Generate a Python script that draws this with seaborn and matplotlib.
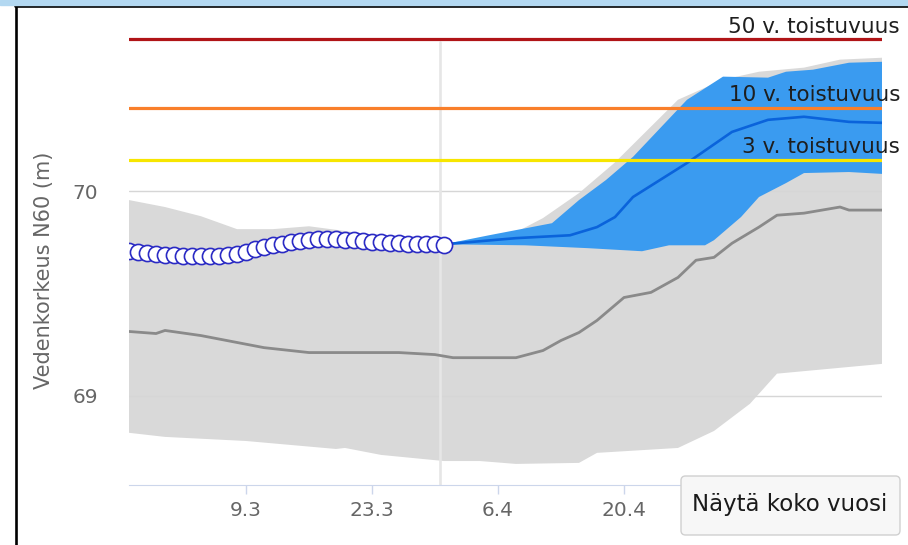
import pandas as pd
import numpy as np
import seaborn as sns
import matplotlib.pyplot as plt
import matplotlib.dates as mdates
from matplotlib.patches import Rectangle, FancyBboxPatch
from matplotlib.lines import Line2D

# observed water level, daily
obs_start, obs_end = '2019-02-24', '2019-03-31'
obs_level = [69.706, 69.701, 69.696, 69.691, 69.689, 69.686, 69.684, 69.681, 69.681,
             69.681, 69.681, 69.686, 69.691, 69.701, 69.716, 69.725, 69.735, 69.743,
             69.750, 69.755, 69.760, 69.765, 69.765, 69.765, 69.762, 69.760, 69.755,
             69.752, 69.750, 69.748, 69.745, 69.743, 69.740, 69.740, 69.740, 69.738]

# long-term range (gray)
hist_hi_dates = ['2019-02-24', '2019-02-28', '2019-03-04', '2019-03-08', '2019-03-12',
                 '2019-03-16', '2019-03-21', '2019-03-26', '2019-03-30', '2019-04-04',
                 '2019-04-08', '2019-04-11', '2019-04-15', '2019-04-19', '2019-04-26',
                 '2019-05-01', '2019-05-05', '2019-05-10', '2019-05-14', '2019-05-19']
hist_hi = [69.956, 69.922, 69.877, 69.814, 69.814, 69.828, 69.799, 69.770, 69.750, 69.745,
           69.799, 69.868, 69.990, 70.140, 70.446, 70.544, 70.583, 70.603, 70.642, 70.652]
hist_lo_dates = ['2019-02-24', '2019-02-28', '2019-03-09', '2019-03-19', '2019-03-20',
                 '2019-03-24', '2019-03-31', '2019-04-04', '2019-04-08', '2019-04-15',
                 '2019-04-17', '2019-04-26', '2019-04-30', '2019-05-04', '2019-05-07',
                 '2019-05-19']
hist_lo = [68.819, 68.799, 68.779, 68.740, 68.745, 68.711, 68.681, 68.681, 68.667, 68.672,
           68.721, 68.745, 68.828, 68.961, 69.108, 69.157]
hist_med_dates = ['2019-02-24', '2019-02-27', '2019-02-28', '2019-03-04', '2019-03-11',
                  '2019-03-16', '2019-03-26', '2019-03-30', '2019-04-01', '2019-04-08',
                  '2019-04-11', '2019-04-13', '2019-04-15', '2019-04-17', '2019-04-20',
                  '2019-04-23', '2019-04-26', '2019-04-28', '2019-04-30', '2019-05-02',
                  '2019-05-05', '2019-05-07', '2019-05-10', '2019-05-14', '2019-05-15',
                  '2019-05-19']
hist_med = [69.314, 69.304, 69.319, 69.294, 69.235, 69.211, 69.211, 69.201, 69.186, 69.186,
            69.221, 69.270, 69.309, 69.368, 69.480, 69.505, 69.578, 69.662, 69.676, 69.745,
            69.824, 69.882, 69.892, 69.922, 69.907, 69.907]

# forecast (blue)
fc_hi_dates = ['2019-03-31', '2019-04-05', '2019-04-12', '2019-04-15', '2019-04-18',
               '2019-04-21', '2019-04-27', '2019-05-01', '2019-05-06', '2019-05-08',
               '2019-05-11', '2019-05-15', '2019-05-19']
fc_hi = [69.740, 69.784, 69.843, 69.956, 70.054, 70.167, 70.446, 70.559, 70.554, 70.583,
         70.593, 70.627, 70.632]
fc_lo_dates = ['2019-03-31', '2019-04-09', '2019-04-16', '2019-04-22', '2019-04-25',
               '2019-04-29', '2019-04-30', '2019-05-03', '2019-05-05', '2019-05-08',
               '2019-05-10', '2019-05-15', '2019-05-19']
fc_lo = [69.740, 69.735, 69.721, 69.706, 69.735, 69.735, 69.760, 69.873, 69.971, 70.039,
         70.088, 70.093, 70.083]
fc_med_dates = ['2019-03-31', '2019-04-08', '2019-04-14', '2019-04-17', '2019-04-19',
                '2019-04-21', '2019-04-24', '2019-04-27', '2019-05-02', '2019-05-06',
                '2019-05-10', '2019-05-15', '2019-05-19']
fc_med = [69.740, 69.770, 69.784, 69.824, 69.873, 69.971, 70.054, 70.137, 70.289, 70.348,
          70.363, 70.338, 70.333]

# recurrence levels
levels = [70.741, 70.407, 70.151]
level_labels = ['50 v. toistuvuus', '10 v. toistuvuus', '3 v. toistuvuus']
level_colors = ['#b01417', '#f97f2a', '#f7e600']

today = '2019-03-30 12:00'
tick_dates = ['2019-03-09', '2019-03-23', '2019-04-06', '2019-04-20']
tick_labels = ['9.3', '23.3', '6.4', '20.4']


def dn(d):
    return mdates.date2num(pd.to_datetime(d))


sns.set_style('white')
plt.rcParams['font.family'] = ['DejaVu Sans']

fig = plt.figure(figsize=(9.08, 5.45), dpi=100)
ax = fig.add_axes([129 / 908, 1 - 485 / 545, 753 / 908, 471 / 545])

# gray historical envelope
gx = np.concatenate([dn(hist_hi_dates), dn(hist_lo_dates)[::-1]])
gy = np.concatenate([hist_hi, hist_lo[::-1]])
ax.fill(gx, gy, color='#d9d9d9', lw=0, zorder=0.3)
sns.lineplot(x=dn(hist_med_dates), y=hist_med, ax=ax, color='#8a8a8a', linewidth=2.0,
             sort=False, zorder=1)

# today line
ax.axvline(dn(today), ymax=0.94, color='#e6e6e6', lw=1.9, zorder=0.8)

# forecast envelope
bx = np.concatenate([dn(fc_hi_dates), dn(fc_lo_dates)[::-1]])
by = np.concatenate([fc_hi, fc_lo[::-1]])
ax.fill(bx, by, color='#3a9bf0', lw=0, zorder=2)
sns.lineplot(x=dn(fc_med_dates), y=fc_med, ax=ax, color='#0a63db', linewidth=1.9,
             sort=False, zorder=3)

# observations
obs_dates = pd.date_range(obs_start, obs_end)
sns.scatterplot(x=dn(obs_dates), y=obs_level, ax=ax, s=135, color='white',
                edgecolor='#2a2ac4', linewidth=1.2, zorder=5)

# recurrence lines
for lv, lab, col in zip(levels, level_labels, level_colors):
    ax.axhline(lv, color=col, lw=2.3, zorder=4)
    ax.annotate(lab, xy=(1, lv), xycoords=('axes fraction', 'data'), xytext=(13, 4.8),
                textcoords='offset points', ha='right', va='baseline', fontsize=15.5,
                color='#1e1e1e', annotation_clip=False, zorder=6)

ax.set_xlim(dn('2019-02-24'), dn('2019-05-18 16:00'))
ax.set_ylim(68.564, 70.865)
ax.set_yticks([69, 70])
ax.set_yticklabels(['69', '70'])
ax.set_xticks(dn(tick_dates))
ax.set_xticklabels(tick_labels)
ax.yaxis.grid(True, color='#d6d6d6', lw=1)
ax.set_axisbelow(True)

for s in ['top', 'right', 'left']:
    ax.spines[s].set_visible(False)
ax.spines['bottom'].set_color('#ccd6eb')
ax.tick_params(axis='x', length=6.5, width=1, color='#ccd6eb', labelsize=14.5,
               labelcolor='#666666', pad=5, direction='out', bottom=True)
ax.tick_params(axis='y', length=0, labelsize=14.5, labelcolor='#666666', pad=22)

ax.set_ylabel('Vedenkorkeus N60 (m)', fontsize=15, color='#666666')
ax.yaxis.set_label_coords(-0.0996, 0.4565)
ax.set_xlabel('')

# page frame bits from the screenshot
fig.patches.append(Rectangle((0, 1 - 4.5 / 545), 1, 4.5 / 545, transform=fig.transFigure,
                             color='#b3d8f1', zorder=10))
fig.lines.append(Line2D([15 / 908, 1], [1 - 5.8 / 545, 1 - 5.8 / 545],
                        transform=fig.transFigure, color='black', lw=1.9))
fig.lines.append(Line2D([16.2 / 908, 16.2 / 908], [0, 1 - 4.5 / 545],
                        transform=fig.transFigure, color='black', lw=1.9))

# button
fig.patches.append(FancyBboxPatch((681 / 908, 1 - 535 / 545), 219 / 908, 59 / 545,
                                  boxstyle='round,pad=0,rounding_size=0.005',
                                  mutation_aspect=908 / 545, transform=fig.transFigure,
                                  fc='#f7f7f7', ec='#d0d0d0', lw=1, zorder=10))
fig.text(790 / 908, 1 - 505 / 545, 'Näytä koko vuosi', ha='center', va='center',
         fontsize=16.5, color='#1a1a1a', zorder=11)

fig.savefig('out.png', dpi=100)
